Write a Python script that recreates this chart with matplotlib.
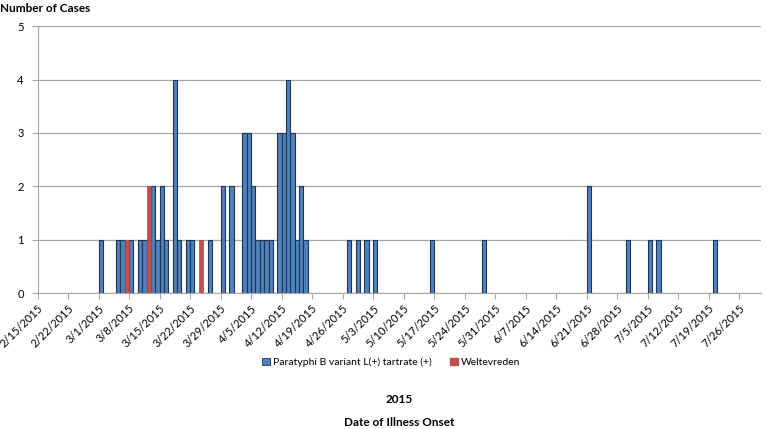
import numpy as np
import pandas as pd
import matplotlib
matplotlib.use("Agg")
import matplotlib.pyplot as plt
from matplotlib.patches import Patch

plt.rcParams['font.family'] = ['Lato', 'DejaVu Sans']

# onset dates and case counts
blue_dates = ['2015-03-01', '2015-03-05', '2015-03-06', '2015-03-08', '2015-03-10',
              '2015-03-11', '2015-03-13', '2015-03-14', '2015-03-15', '2015-03-16',
              '2015-03-18', '2015-03-19', '2015-03-21', '2015-03-22', '2015-03-26',
              '2015-03-29', '2015-03-31', '2015-04-03', '2015-04-04', '2015-04-05',
              '2015-04-06', '2015-04-07', '2015-04-08', '2015-04-09', '2015-04-11',
              '2015-04-12', '2015-04-13', '2015-04-14', '2015-04-15', '2015-04-16',
              '2015-04-17', '2015-04-27', '2015-04-29', '2015-05-01', '2015-05-03',
              '2015-05-16', '2015-05-28', '2015-06-21', '2015-06-30', '2015-07-05',
              '2015-07-07', '2015-07-20']
blue_counts = [1, 1, 1, 1, 1,
               1, 2, 1, 2, 1,
               4, 1, 1, 1, 1,
               2, 2, 3, 3, 2,
               1, 1, 1, 1, 3,
               3, 4, 3, 1, 2,
               1, 1, 1, 1, 1,
               1, 1, 2, 1, 1,
               1, 1]
red_dates = ['2015-03-07', '2015-03-12', '2015-03-24']
red_counts = [1, 2, 1]

series_names = ['Paratyphi B variant L(+) tartrate (+)', 'Weltevreden']

days = pd.date_range('2015-02-15', '2015-07-30', freq='D')
blue = pd.Series(0, index=days)
blue[pd.to_datetime(blue_dates)] = blue_counts
red = pd.Series(0, index=days)
red[pd.to_datetime(red_dates)] = red_counts

fig = plt.figure(figsize=(7.67, 4.29), dpi=100)
ax = fig.add_axes([0.049, 0.317, 0.943, 0.622])

x = np.arange(len(days))
blue_color = '#4F81BD'
red_color = '#C0504D'
ax.bar(x, blue.values, width=1.0, align='edge', color=blue_color,
       edgecolor='#1F3550', linewidth=0.8)
ax.bar(x, red.values, width=1.0, align='edge', bottom=blue.values,
       color=red_color, edgecolor='#B04541', linewidth=0.5)

# hide zero-height outlines
for p in ax.patches:
    if p.get_height() == 0:
        p.set_visible(False)

ax.set_xlim(0, len(days))
ax.set_ylim(0, 5)
ax.set_yticks(range(6))
ax.yaxis.grid(True, color='#A6A6A6', linewidth=0.9)
ax.set_axisbelow(True)

tick_days = pd.date_range('2015-02-15', '2015-07-26', freq='7D')
tick_pos = [(d - days[0]).days for d in tick_days]
ax.set_xticks(tick_pos)
ax.set_xticklabels([f'{d.month}/{d.day}/{d.year}' for d in tick_days],
                   rotation=45, ha='right', rotation_mode='anchor', fontsize=8)
ax.tick_params(axis='x', length=4, color='#A6A6A6', pad=3)
ax.tick_params(axis='y', length=4, color='#A6A6A6', labelsize=8, pad=6)

for s in ['top', 'right']:
    ax.spines[s].set_visible(False)
for s in ['left', 'bottom']:
    ax.spines[s].set_color('#A6A6A6')

fig.text(0.0, 0.981, 'Number of Cases', fontsize=8.5, fontweight='bold',
         ha='left', va='center')
fig.text(0.52, 0.068, '2015', fontsize=8.5, fontweight='bold', ha='center', va='center')
fig.text(0.52, 0.014, 'Date of Illness Onset', fontsize=8.5, fontweight='bold',
         ha='center', va='center')

handles = [Patch(facecolor=blue_color, edgecolor='#1F3550', linewidth=0.6),
           Patch(facecolor=red_color, edgecolor=red_color)]
fig.legend(handles, series_names, loc='center', bbox_to_anchor=(0.51, 0.156),
           ncol=2, frameon=False, fontsize=7.5, handlelength=0.7, handleheight=0.7,
           handletextpad=0.3, columnspacing=1.8)

fig.savefig('out.png', dpi=100)
